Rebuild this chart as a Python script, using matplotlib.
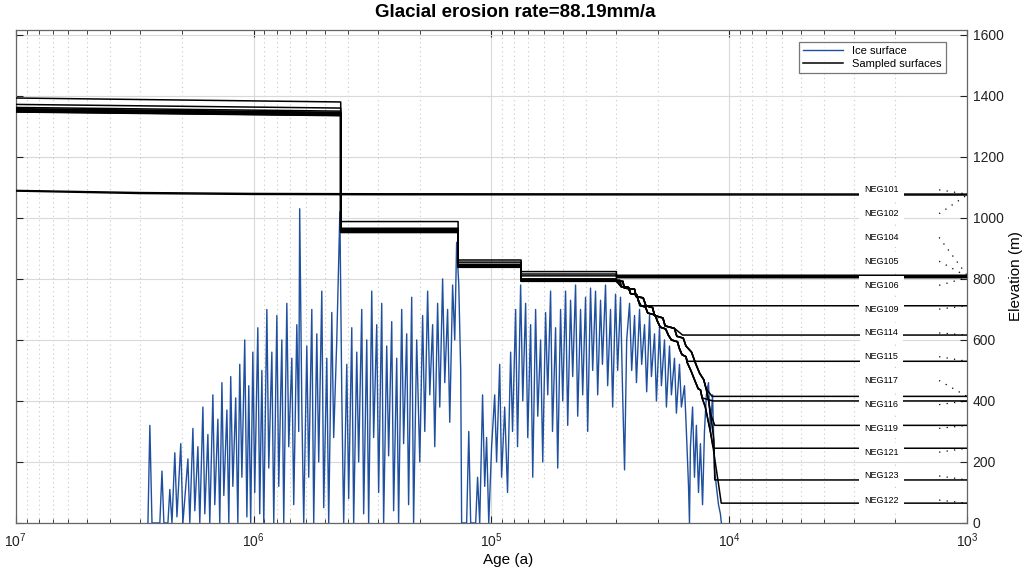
import numpy as np
import matplotlib.pyplot as plt
from matplotlib import font_manager
from matplotlib.ticker import LogLocator, NullFormatter, MultipleLocator

names = {f.name for f in font_manager.fontManager.ttflist}
base_font = 'Liberation Sans Narrow' if 'Liberation Sans Narrow' in names else 'Liberation Sans'
plt.rcParams['font.family'] = [base_font, 'DejaVu Sans']
plt.rcParams['mathtext.fontset'] = 'custom'
plt.rcParams['mathtext.rm'] = base_font

# ice surface: log10(age in years) and elevation (m)
ice_log_age = [
    6.444, 6.436, 6.427, 6.394, 6.385, 6.377, 6.360, 6.352, 6.343, 6.331, 6.322,
    6.306, 6.297, 6.285, 6.276, 6.268, 6.255, 6.247, 6.234, 6.226,
    6.213, 6.205, 6.192, 6.184, 6.171, 6.163, 6.150, 6.142, 6.133, 6.125, 6.112,
    6.104, 6.096, 6.087, 6.075, 6.066, 6.058, 6.049, 6.037, 6.028, 6.020, 6.012, 6.003,
    5.995, 5.982, 5.974, 5.965, 5.957, 5.944, 5.936, 5.923, 5.915, 5.902, 5.894,
    5.881, 5.873, 5.860, 5.852, 5.839, 5.831, 5.818, 5.810, 5.806, 5.797, 5.789,
    5.776, 5.768, 5.755, 5.747, 5.734, 5.726, 5.713, 5.705, 5.692, 5.684, 5.671,
    5.663, 5.650, 5.642, 5.637, 5.629, 5.621,
    5.608, 5.600, 5.587, 5.579, 5.566, 5.558, 5.545, 5.537, 5.524, 5.516, 5.503,
    5.495, 5.482, 5.474, 5.461, 5.453, 5.440, 5.432, 5.419, 5.411, 5.398, 5.390,
    5.377, 5.369, 5.356, 5.348, 5.335, 5.327, 5.314, 5.301,
    5.289, 5.280, 5.268, 5.259, 5.247, 5.238, 5.226, 5.217, 5.205, 5.196, 5.184,
    5.175, 5.163, 5.154, 5.146, 5.137, 5.129, 5.125,
    5.104, 5.095, 5.087, 5.066, 5.058, 5.049, 5.037, 5.028, 5.020, 5.011,
    4.999, 4.986, 4.978, 4.965, 4.957, 4.944, 4.932, 4.919, 4.911, 4.898, 4.890,
    4.877, 4.868, 4.856, 4.847, 4.835, 4.826, 4.814, 4.805, 4.793, 4.784, 4.772,
    4.763, 4.751, 4.743, 4.730, 4.721,
    4.709, 4.700, 4.688, 4.679, 4.667, 4.658, 4.646, 4.637, 4.625, 4.616, 4.604,
    4.595, 4.583, 4.574, 4.562, 4.553, 4.541, 4.533, 4.520, 4.511, 4.499, 4.490,
    4.478, 4.469, 4.457,
    4.448, 4.440, 4.431, 4.419, 4.410, 4.398, 4.390, 4.377, 4.368, 4.356, 4.347,
    4.335, 4.327, 4.314, 4.306, 4.293, 4.285, 4.272, 4.264, 4.251, 4.243, 4.230,
    4.222, 4.209, 4.201, 4.188, 4.180, 4.171, 4.167, 4.163,
    4.154, 4.146, 4.138, 4.129, 4.121, 4.112, 4.104, 4.096, 4.087, 4.079, 4.070,
    4.062, 4.054, 4.045, 4.037, 4.033,
]
ice_elev = [
    0, 320, 0, 0, 170, 0, 0, 110, 0, 230, 20,
    260, 0, 120, 210, 0, 310, 40, 250, 0,
    380, 30, 290, 0, 420, 60, 340, 0, 460, 90, 370,
    0, 480, 120, 410, 0, 520, 150, 600, 20, 450, 0, 560,
    100, 640, 30, 500, 0, 700, 180, 560, 0, 680, 120,
    600, 0, 720, 250, 540, 60, 650, 300, 1030, 380, 0,
    580, 150, 700, 0, 620, 200, 760, 50, 540, 0, 690,
    280, 600, 850, 1020, 420, 0,
    520, 80, 640, 0, 560, 200, 700, 30, 600, 0, 760,
    280, 650, 100, 720, 0, 580, 220, 660, 40, 540, 0,
    700, 260, 620, 60, 740, 0, 600, 200,
    680, 300, 760, 420, 650, 250, 720, 380, 800, 460, 700,
    330, 780, 600, 920, 780, 500, 0,
    0, 300, 0, 0, 150, 0, 420, 120, 280, 0,
    250, 420, 200, 520, 150, 380, 100, 560, 300, 700, 250,
    780, 400, 720, 280, 650, 150, 700, 350, 600, 200, 690,
    420, 760, 300, 640, 180,
    700, 400, 760, 320, 730, 480, 780, 350, 700, 420, 740,
    300, 770, 500, 760, 420, 730, 520, 780, 450, 700, 380,
    750, 500, 740,
    420, 174, 600, 720, 500, 680, 460, 700, 520, 650, 430,
    680, 480, 620, 400, 640, 450, 600, 380, 580, 420, 540,
    360, 520, 380, 450, 300, 120, 0, 250,
    380, 150, 320, 100, 260, 60, 300, 420, 460, 300, 420,
    180, 120, 60, 30, 0,
]

# sampled surfaces
sample_names = ['NEG101', 'NEG102', 'NEG104', 'NEG105', 'NEG106', 'NEG109', 'NEG114',
                'NEG115', 'NEG117', 'NEG116', 'NEG119', 'NEG121', 'NEG123', 'NEG122']
final_elev = [1078, 1075, 812, 808, 804, 712, 616, 530, 415, 400, 320, 245, 141, 65]
exposed_since_ka = [None, None, 29.8, 29.8, 29.8, 23.8, 15.7, 15.0, 11.8, 11.7, 11.5, 11.5, 11.5, 10.8]
degl_track = [None, None, 'A', 'A', 'A', 'A', 'B', 'A', 'B', 'A', 'B', 'A', 'B', 'A']
label_elev = [1092, 1014, 936, 858, 779, 701, 623, 545, 467, 388, 310, 232, 154, 75]

# high samples, hardly eroded
high_age_ka = [10000, 3000, 1000, 300, 1]
high_elev = {'NEG101': [1090, 1083, 1080, 1079, 1078],
             'NEG102': [1088, 1080, 1077, 1076, 1075]}

# lower samples: elevation at 10 Ma, then the flat stages between glaciations
step_age_ka = [10000, 430, 430, 138, 138, 75, 75, 29.8]
elev_10ma = [1393, 1372, 1362, 1358, 1356, 1354, 1352, 1351, 1350, 1349, 1348, 1347]
elev_stage1 = [1380, 1360, 1350, 1346, 1344, 1342, 1340, 1339, 1338, 1337, 1336, 1335]
elev_stage2 = [988, 966, 962, 960, 959, 958, 957, 956, 955, 954, 953, 952]
elev_stage3 = [862, 855, 848, 846, 845, 844, 843, 842, 841, 840, 839, 838]
elev_stage4 = [824, 816, 810, 800, 799, 798, 797, 796, 795, 794, 793, 792]

# last deglaciation, two tracks of the sampled surfaces (age ka, elevation m)
degl_a_age = [29.8, 28.8, 28.5, 26.5, 26.0, 24.5, 24.0, 23.5, 22.5, 22.0, 20.5, 20.0,
              19.5, 18.5, 18.0, 17.5, 16.5, 16.2, 15.8, 15.2, 15.0, 14.5, 14.0, 13.5,
              13.2, 13.0, 12.6, 12.3, 12.0, 11.7, 11.4, 11.1, 10.8]
degl_a_elev = [795, 795, 775, 772, 752, 748, 725, 712, 708, 688, 682, 660,
               642, 636, 615, 600, 594, 572, 552, 545, 525, 500, 470, 440,
               436, 410, 380, 340, 300, 250, 190, 130, 65]
degl_b_age = [29.8, 28.0, 27.6, 25.0, 24.6, 23.0, 22.4, 21.0, 20.6, 19.0, 18.6, 17.0,
              16.6, 15.6, 15.2, 14.4, 13.8, 13.3, 12.8, 12.5, 12.2, 12.0, 11.8, 11.6,
              11.4, 11.2]
degl_b_elev = [792, 792, 770, 766, 742, 738, 712, 706, 680, 672, 646, 638,
               612, 606, 580, 560, 520, 490, 470, 440, 400, 360, 320, 270,
               200, 140]

label_age_ka = 2.29
connector_start_ka = 1.31

fig = plt.figure(figsize=(10.27, 5.73), dpi=100)
ax = fig.add_axes([0.0153, 0.0873, 0.9263, 0.8604])
ax.set_xscale('log')

ice_age = 10 ** np.array(ice_log_age)
ax.plot(ice_age, ice_elev, color='#1f4f9f', lw=1.0, label='Ice surface', zorder=3)

first = True
for k, (name, fe, te) in enumerate(zip(sample_names, final_elev, exposed_since_ka)):
    if name in high_elev:
        ages = np.array(high_age_ka) * 1e3
        elevs = high_elev[name]
    else:
        i = k - 2
        elevs = [elev_10ma[i], elev_stage1[i], elev_stage2[i], elev_stage2[i],
                 elev_stage3[i], elev_stage3[i], elev_stage4[i], elev_stage4[i]]
        ages = list(step_age_ka)
        if degl_track[k] == 'A':
            track = zip(degl_a_age, degl_a_elev)
        else:
            track = zip(degl_b_age, degl_b_elev)
        for a, e in track:
            if a > te and e < elev_stage4[i] and e > fe:
                ages.append(a)
                elevs.append(e)
        ages += [te, 1]
        elevs += [fe, fe]
        ages = np.array(ages) * 1e3
    ax.plot(ages, elevs, color='black', lw=1.1, zorder=4,
            label='Sampled surfaces' if first else None)
    first = False

for name, fe, le in zip(sample_names, final_elev, label_elev):
    ax.plot([connector_start_ka * 1e3, 1e3], [le, fe], color='black', lw=0.9,
            ls=(0, (1, 5)), zorder=4)
    ax.text(label_age_ka * 1e3, le, name, ha='center', va='center', fontsize=6.5,
            zorder=6, bbox=dict(facecolor='white', edgecolor='none', pad=3.6))

ax.set_xlim(1e7, 1e3)
ax.set_ylim(0, 1616)
ax.xaxis.set_major_locator(LogLocator(base=10, numticks=10))
ax.xaxis.set_minor_locator(LogLocator(base=10, subs=np.arange(2, 10), numticks=20))
ax.xaxis.set_minor_formatter(NullFormatter())
ax.yaxis.set_major_locator(MultipleLocator(200))

ax.yaxis.tick_right()
ax.yaxis.set_label_position('right')
ax.tick_params(axis='both', which='both', direction='in', top=True, bottom=True,
               left=True, right=True, labelleft=False, labelright=True,
               labelsize=10, colors='#222222')
ax.tick_params(which='major', length=5, width=0.8)
ax.tick_params(which='minor', length=3, width=0.6)
ax.tick_params(axis='x', pad=6)
ax.tick_params(axis='y', pad=4)

ax.grid(True, which='major', axis='both', color='#d9d9d9', lw=0.8, zorder=0)
ax.grid(True, which='minor', axis='x', color='#c8c8c8', lw=0.8, ls=(0, (1, 3)), zorder=0)
ax.set_axisbelow(True)
for s in ax.spines.values():
    s.set_color('#666666')
    s.set_linewidth(0.9)

ax.set_ylabel('Elevation (m)', fontsize=11, labelpad=4)
fig.text(0.495, 0.022, 'Age (a)', ha='center', va='center', fontsize=11)
fig.text(0.502, 0.979, 'Glacial erosion rate=88.19mm/a', ha='center', va='center',
         fontsize=13.5, fontweight='bold')

leg = ax.legend(loc='upper right', bbox_to_anchor=(0.978, 0.976), fontsize=8,
                handlelength=3.6, frameon=True, fancybox=False, borderpad=0.4,
                labelspacing=0.25, borderaxespad=0)
leg.get_frame().set_edgecolor('#555555')
leg.get_frame().set_linewidth(0.9)

fig.savefig('out.png', dpi=100)
